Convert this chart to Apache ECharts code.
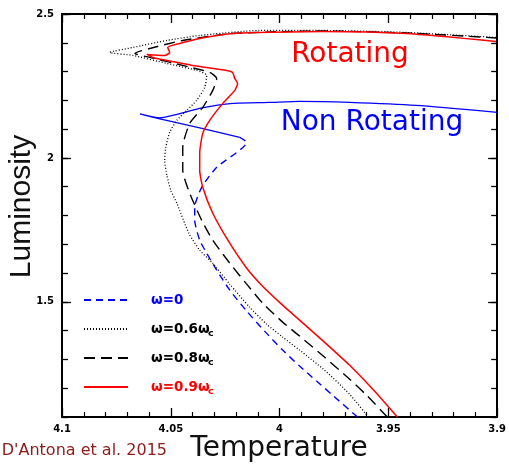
<!DOCTYPE html>
<html><head><meta charset="utf-8">
<script src="https://cdn.jsdelivr.net/npm/echarts@6/dist/echarts.min.js"></script>
<style>html,body{margin:0;padding:0;background:#fff}#c{width:509px;height:465px}</style>
</head><body><div id="c"></div>
<script>
// Tick labels
const xTickValues = [4.1, 4.05, 4, 3.95, 3.9];
const xTickLabels = ['4.1', '4.05', '4', '3.95', '3.9'];
const yTickValues = [1.5, 2, 2.5];
const yTickLabels = ['1.5', '2', '2.5'];

// Series names (legend)
const seriesNames = ['ω=0', 'ω=0.6ωc', 'ω=0.8ωc', 'ω=0.9ωc'];

// omega = 0 : main sequence up to turn-off (dashed)
const w0T = [3.9642, 3.9757, 3.9830, 3.9908, 3.9986, 4.0069, 4.0151, 4.0229, 4.0289, 4.0335, 4.0367, 4.0390, 4.0390, 4.0358, 4.0289, 4.0151, 4.0183];
const w0L = [1.1000, 1.1763, 1.2249, 1.2770, 1.3325, 1.3984, 1.4678, 1.5407, 1.6100, 1.6690, 1.7141, 1.7835, 1.8286, 1.8980, 1.9674, 2.0542, 2.0715];
// omega = 0 : after turn-off (solid, "Non Rotating")
const w0PostT = [4.0183, 4.0367, 4.0550, 4.0642, 4.0550, 4.0472, 4.0367, 4.0216, 4.0046, 3.9908, 3.9679, 3.9372, 3.9000];
const w0PostL = [2.0715, 2.1045, 2.1357, 2.1530, 2.1392, 2.1513, 2.1721, 2.1895, 2.1929, 2.1964, 2.1929, 2.1825, 2.1582];

// omega = 0.6 omega_c (dotted)
const w06T = [3.9592, 3.9679, 3.9794, 3.9908, 3.9986, 4.0060, 4.0138, 4.0229, 4.0307, 4.0367, 4.0417, 4.0472, 4.0500, 4.0518, 4.0528, 4.0523, 4.0505, 4.0472, 4.0427, 4.0381, 4.0344, 4.0335, 4.0381, 4.0518, 4.0674, 4.0780, 4.0674, 4.0518, 4.0367, 4.0092, 3.9803, 3.9417, 3.9005];
const w06L = [1.1000, 1.1798, 1.2631, 1.3325, 1.3776, 1.4227, 1.4817, 1.5615, 1.6343, 1.6794, 1.7384, 1.8425, 1.8876, 1.9397, 1.9917, 2.0368, 2.0889, 2.1305, 2.1652, 2.1999, 2.2450, 2.2866, 2.3040, 2.3283, 2.3560, 2.3664, 2.3838, 2.4081, 2.4254, 2.4428, 2.4428, 2.4358, 2.4185];

// omega = 0.8 omega_c (dashed)
const w08T = [3.9505, 3.9601, 3.9679, 3.9794, 3.9908, 3.9986, 4.0078, 4.0151, 4.0229, 4.0307, 4.0358, 4.0413, 4.0445, 4.0445, 4.0413, 4.0353, 4.0307, 4.0289, 4.0321, 4.0445, 4.0596, 4.0665, 4.0596, 4.0445, 4.0216, 3.9803, 3.9417, 3.9005];
const w08L = [1.1000, 1.1763, 1.2319, 1.3082, 1.3811, 1.4296, 1.4955, 1.5615, 1.6343, 1.7141, 1.7835, 1.8772, 1.9570, 2.0368, 2.1201, 2.1756, 2.2346, 2.2762, 2.2970, 2.3213, 2.3491, 2.3630, 2.3803, 2.4081, 2.4323, 2.4410, 2.4341, 2.4167];

// omega = 0.9 omega_c (solid red)
const w09T = [3.9459, 3.9564, 3.9679, 3.9794, 3.9908, 3.9986, 4.0078, 4.0151, 4.0229, 4.0307, 4.0353, 4.0367, 4.0367, 4.0353, 4.0321, 4.0261, 4.0206, 4.0193, 4.0206, 4.0216, 4.0243, 4.0399, 4.0518, 4.0583, 4.0610, 4.0528, 4.0505, 4.0514, 4.0459, 4.0367, 4.0216, 4.0092, 3.9803, 3.9417, 3.9005];
const w09L = [1.1000, 1.1902, 1.2804, 1.3602, 1.4366, 1.4886, 1.5545, 1.6170, 1.7037, 1.8078, 1.8980, 1.9570, 2.0160, 2.0854, 2.1305, 2.1895, 2.2346, 2.2589, 2.2762, 2.2970, 2.3040, 2.3213, 2.3387, 2.3491, 2.3595, 2.3560, 2.3664, 2.3838, 2.3976, 2.4150, 2.4323, 2.4358, 2.4393, 2.4323, 2.4046];

const zip = (a, b) => a.map((v, i) => [v, b[i]]);
const lookup = (vals, labels) => v => {
  const i = vals.findIndex(t => Math.abs(t - v) < 1e-6);
  return i >= 0 ? labels[i] : '';
};

const BLUE = '#0000ff', RED = '#ff0000', BLACK = '#000000';
const legendColors = [BLUE, BLACK, BLACK, RED];
const tickFont = { fontFamily: 'DejaVu Sans', fontWeight: 'bold', fontSize: 10, color: '#000' };

function xAx(pos, showLabel) {
  return {
    type: 'value', position: pos, inverse: true, min: 3.9, max: 4.1, interval: 0.05,
    splitLine: { show: false },
    axisLine: { onZero: false, lineStyle: { color: '#000', width: 2 } },
    axisTick: { inside: true, length: 9, lineStyle: { color: '#000', width: 1.3 } },
    minorTick: { show: true, splitNumber: 5, length: 5, lineStyle: { color: '#000', width: 1.2 } },
    axisLabel: Object.assign({ show: showLabel, margin: 7, formatter: lookup(xTickValues, xTickLabels) }, tickFont)
  };
}
function yAx(pos, showLabel, major) {
  const ax = {
    type: 'value', position: pos, min: 1.1, max: 2.5, interval: 0.1,
    splitLine: { show: false },
    axisLine: { show: !major, onZero: false, lineStyle: { color: '#000', width: 2 } },
    axisTick: { inside: true, length: major ? 9 : 6, lineStyle: { color: '#000', width: 1.3 } },
    axisLabel: Object.assign({ show: showLabel, margin: 8, formatter: lookup(yTickValues, yTickLabels) }, tickFont)
  };
  if (major) ax.axisTick.customValues = yTickValues;
  return ax;
}

const lineSeries = (name, data, color, type, width) => ({
  name, type: 'line', data, xAxisIndex: 0, yAxisIndex: 0,
  showSymbol: false, symbol: 'none', smooth: 0.2, animation: false,
  lineStyle: { color, width, type },
  itemStyle: { color }
});

// legend layout
const LEG_LEFT = 83, LEG_TOP = 293, LEG_ITEM_H = 14, LEG_GAP = 15, SUB_X = 208;
const subGraphics = seriesNames.map((n, i) => n.endsWith('ωc') ? {
  type: 'text', x: SUB_X, y: LEG_TOP + LEG_ITEM_H / 2 + i * (LEG_ITEM_H + LEG_GAP) + 4.5,
  style: { text: 'c', fontFamily: 'DejaVu Sans', fontWeight: 'bold', fontSize: 9.5, fill: legendColors[i], align: 'left', verticalAlign: 'middle' }
} : null).filter(Boolean);

const chart = echarts.init(document.getElementById('c'), null, { renderer: 'canvas' });
chart.setOption({
  animation: false,
  backgroundColor: '#fff',
  grid: { left: 62, top: 14, width: 436, height: 403, containLabel: false },
  xAxis: [xAx('bottom', true), xAx('top', false)],
  yAxis: [yAx('left', true, false), yAx('left', false, true), yAx('right', false, false), yAx('right', false, true)],
  legend: {
    orient: 'vertical', left: LEG_LEFT, top: LEG_TOP, padding: 0,
    itemWidth: 44, itemHeight: LEG_ITEM_H, itemGap: LEG_GAP,
    itemStyle: { color: 'rgba(0,0,0,0)', borderWidth: 0, opacity: 0 },
    data: seriesNames.map((n, i) => ({ name: n, textStyle: { color: legendColors[i] } })),
    formatter: n => n.endsWith('ωc') ? n.slice(0, -1) : n,
    textStyle: { fontFamily: 'DejaVu Sans', fontWeight: 'bold', fontSize: 13.5, padding: [0, 0, 3, 18] }
  },
  series: [
    lineSeries('post', zip(w0PostT, w0PostL), BLUE, 'solid', 1.3),
    lineSeries(seriesNames[0], zip(w0T, w0L), BLUE, [7, 5], 1.4),
    lineSeries(seriesNames[1], zip(w06T, w06L), BLACK, [1, 2], 1.3),
    lineSeries(seriesNames[2], zip(w08T, w08L), BLACK, [11, 6], 1.4),
    lineSeries(seriesNames[3], zip(w09T, w09L), RED, 'solid', 1.5)
  ],
  graphic: [
    { type: 'text', x: 350, y: 55, style: { text: 'Rotating', fontFamily: 'DejaVu Sans', fontSize: 28, fill: RED, align: 'center', verticalAlign: 'middle' } },
    { type: 'text', x: 372, y: 123, style: { text: 'Non Rotating', fontFamily: 'DejaVu Sans', fontSize: 28, fill: BLUE, align: 'center', verticalAlign: 'middle' } },
    { type: 'text', x: 279, y: 449, style: { text: 'Temperature', fontFamily: 'DejaVu Sans', fontSize: 28, fill: '#111', align: 'center', verticalAlign: 'middle' } },
    { type: 'text', x: 21.5, y: 206.5, rotation: Math.PI / 2, style: { text: 'Luminosity', fontFamily: 'Liberation Sans', fontSize: 30, fill: '#111', align: 'center', verticalAlign: 'middle' } },
    { type: 'text', x: 167, y: 451, style: { text: "D'Antona et al. 2015", fontFamily: 'DejaVu Sans', fontSize: 16, fill: '#8b1a1a', align: 'right', verticalAlign: 'middle' } }
  ].concat(subGraphics)
});
</script>
</body></html>
